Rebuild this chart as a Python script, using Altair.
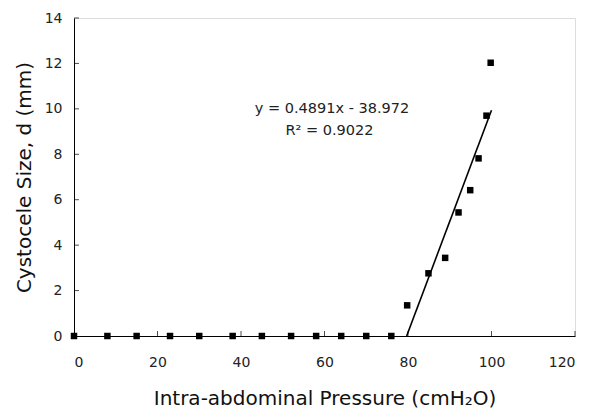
import altair as alt
import pandas as pd

pressure = [0, 8, 15, 23, 30, 38, 45, 52, 58, 64, 70, 76,
            79.8, 84.9, 88.9, 92.1, 94.9, 96.9, 98.8, 99.8]
size = [0, 0, 0, 0, 0, 0, 0, 0, 0, 0, 0, 0,
        1.35, 2.76, 3.44, 5.44, 6.42, 7.82, 9.70, 12.03]

slope = 0.4891
intercept = -38.972
fit_x = [-intercept / slope, 100]
fit_y = [slope * v + intercept for v in fit_x]

eq_lines = ["y = 0.4891x - 38.972", "R² = 0.9022"]
eq_x = [61.8, 61.2]
eq_y = [10.0, 9.02]

x_ticks = [0, 20, 40, 60, 80, 100, 120]
y_ticks = [0, 2, 4, 6, 8, 10, 12, 14]

FONT = "DejaVu Sans"

pts = pd.DataFrame({"p": pressure, "d": size})
fit = pd.DataFrame({"p": fit_x, "d": fit_y})
eq = pd.DataFrame({"t": eq_lines, "p": eq_x, "d": eq_y})
xt = pd.DataFrame({"v": x_ticks[1:]})
yt = pd.DataFrame({"v": y_ticks[1:]})

xs = alt.Scale(domain=[0, 120], nice=False, zero=True)
ys = alt.Scale(domain=[0, 14], nice=False)

x_axis = alt.Axis(values=x_ticks, ticks=False, grid=False, domainColor="#000",
                  labelFont=FONT, labelFontSize=14, labelColor="#222", labelPadding=19,
                  title="Intra-abdominal Pressure (cmH₂O)", titleFont=FONT,
                  titleFontSize=20, titleFontWeight="normal", titleColor="#111",
                  titlePadding=19)
y_axis = alt.Axis(values=y_ticks, ticks=False, grid=False, domainColor="#000",
                  labelFont=FONT, labelFontSize=14, labelColor="#222", labelPadding=12,
                  title="Cystocele Size, d (mm)", titleFont=FONT,
                  titleFontSize=20, titleFontWeight="normal", titleColor="#111",
                  titlePadding=10)

points = alt.Chart(pts).mark_square(size=42, color="#000", opacity=1).encode(
    x=alt.X("p:Q", scale=xs, axis=x_axis),
    y=alt.Y("d:Q", scale=ys, axis=y_axis),
)

line = alt.Chart(fit).mark_line(color="#000", strokeWidth=1.6).encode(
    x=alt.X("p:Q", scale=xs), y=alt.Y("d:Q", scale=ys)
)

text = alt.Chart(eq).mark_text(font=FONT, fontSize=14.5, color="#222").encode(
    x=alt.X("p:Q", scale=xs), y=alt.Y("d:Q", scale=ys), text="t:N"
)

xtick = alt.Chart(xt).mark_tick(orient="vertical", size=5, yOffset=-2.5,
                                color="#000", thickness=1).encode(
    x=alt.X("v:Q", scale=xs), y=alt.datum(0, scale=ys)
)
ytick = alt.Chart(yt).mark_tick(orient="horizontal", size=5, xOffset=2.5,
                                color="#000", thickness=1).encode(
    y=alt.Y("v:Q", scale=ys), x=alt.datum(0, scale=xs)
)

chart = alt.layer(xtick, ytick, line, points, text).properties(
    width=501, height=318,
    autosize=alt.AutoSizeParams(type="none"),
    padding={"left": 66, "top": 10, "right": 14, "bottom": 72},
).configure_view(stroke=None).configure(background="white")

chart.save("out.html", embed_options={"renderer": "svg", "actions": False})
